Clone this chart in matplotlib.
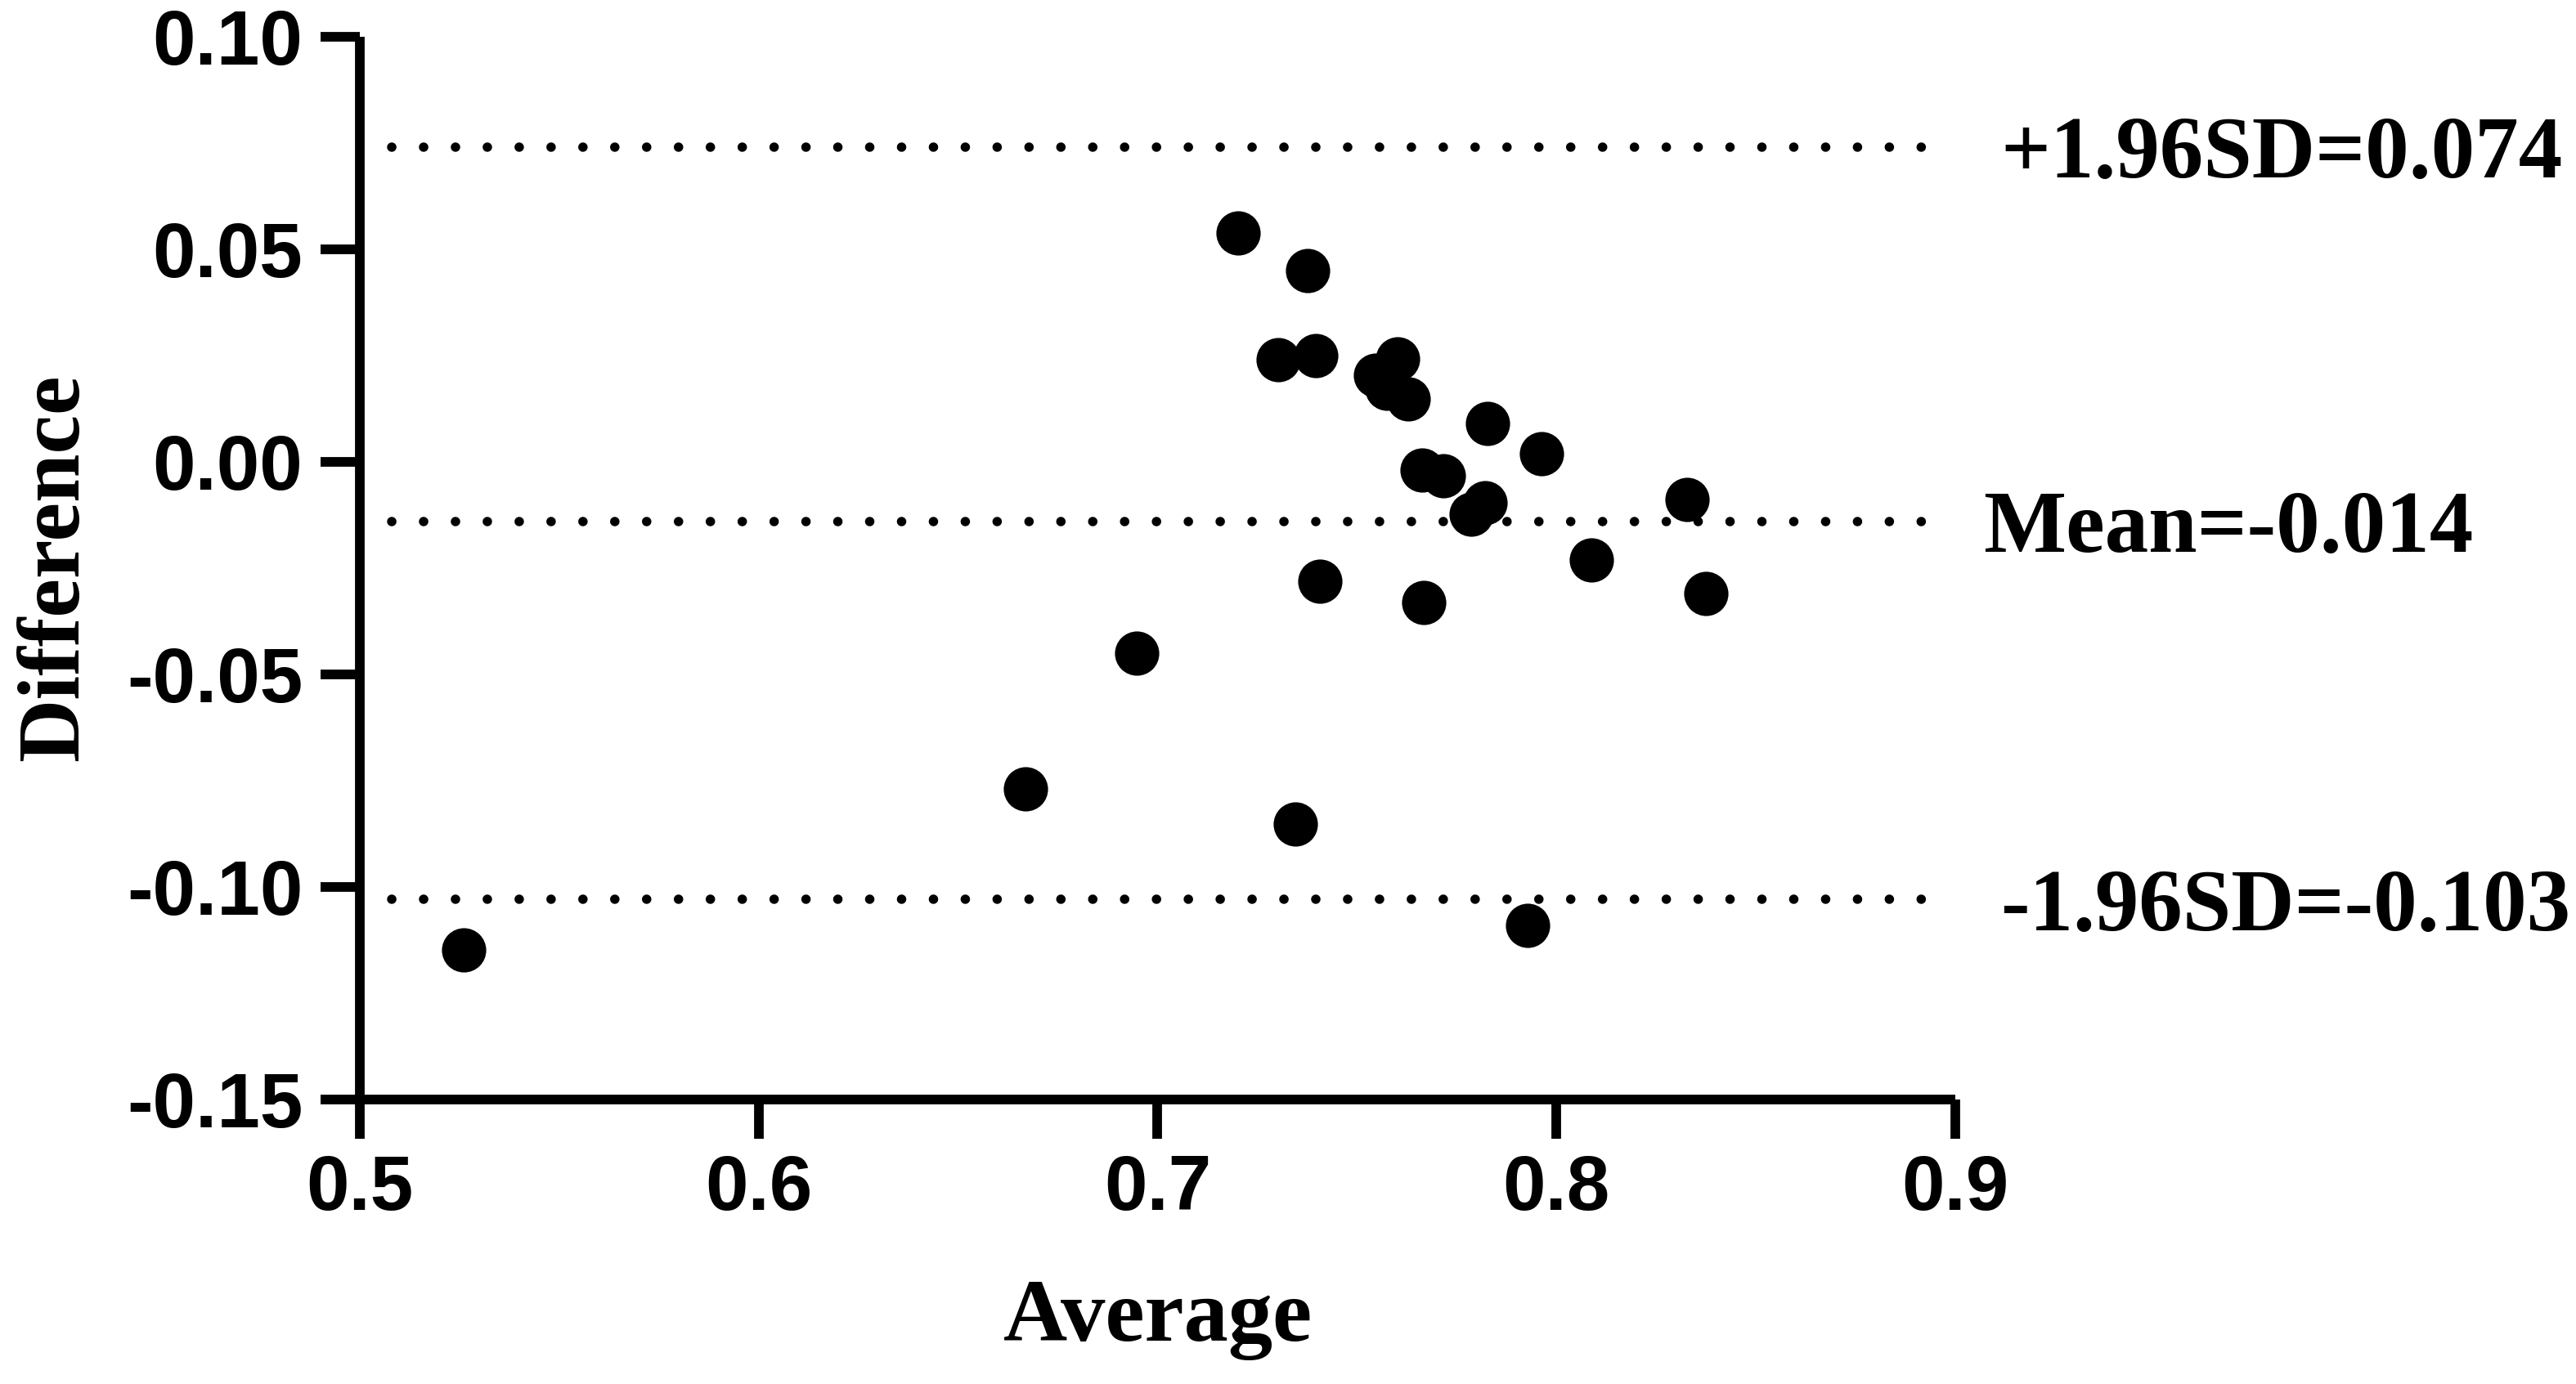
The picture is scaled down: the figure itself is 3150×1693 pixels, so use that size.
import matplotlib
matplotlib.use('Agg')
import matplotlib.pyplot as plt

# Bland-Altman data
avg = [0.7202, 0.7377, 0.7302, 0.7398, 0.7602, 0.7546, 0.7575, 0.7628,
       0.7828, 0.7963, 0.7663, 0.7716, 0.7822, 0.7787, 0.8328, 0.7408,
       0.7667, 0.8088, 0.8375, 0.6948, 0.6668, 0.7345, 0.7928, 0.5259]
diff = [0.0538, 0.0450, 0.0239, 0.0249, 0.0242, 0.0203, 0.0173, 0.0148,
        0.0089, 0.0019, -0.0020, -0.0033, -0.0097, -0.0123, -0.0090, -0.0282,
        -0.0331, -0.0232, -0.0310, -0.0450, -0.0770, -0.0853, -0.1091, -0.1149]

mean_diff = -0.014
upper_loa = 0.074
lower_loa = -0.103
line_labels = ['+1.96SD=0.074', 'Mean=-0.014', '-1.96SD=-0.103']
line_values = [upper_loa, mean_diff, lower_loa]
label_x = [0.9115, 0.9070, 0.9113]

xticks = [0.5, 0.6, 0.7, 0.8, 0.9]
yticks = [0.10, 0.05, 0.00, -0.05, -0.10, -0.15]

serif = 'Liberation Serif'
sans = 'Liberation Sans'

fig = plt.figure(figsize=(31.5, 16.93), dpi=100)
ax = fig.add_axes([0.1398, 0.2056, 0.6191, 0.7681])

# dotted reference lines (round caps on tiny dashes -> dots)
for v in line_values:
    ax.plot([0.508, 0.892], [v, v], color='black', lw=8.3,
            linestyle=(0, (0.01, 3.37)), dash_capstyle='round')

ax.plot(avg, diff, 'o', color='black', markersize=39, markeredgewidth=0, zorder=3)

for txt, v, lx in zip(line_labels, line_values, label_x):
    ax.text(lx, v, txt, fontfamily=serif, fontweight='bold', fontsize=77,
            ha='left', va='center_baseline', clip_on=False)

ax.set_xlim(0.5, 0.9)
ax.set_ylim(-0.15, 0.10)
ax.set_xticks(xticks)
ax.set_xticklabels(['%.1f' % t for t in xticks])
ax.set_yticks(yticks)
ax.set_yticklabels(['%.2f' % t for t in yticks])

for s in ['top', 'right']:
    ax.spines[s].set_visible(False)
for s in ['left', 'bottom']:
    ax.spines[s].set_linewidth(8.5)
    ax.spines[s].set_capstyle('butt')

ax.tick_params(axis='both', width=8.5, length=34.5, direction='out')
ax.tick_params(axis='x', pad=13)
ax.tick_params(axis='y', pad=16)
for lab in ax.get_xticklabels() + ax.get_yticklabels():
    lab.set_fontfamily(sans)
    lab.set_fontweight('bold')
    lab.set_fontsize(68)

ax.set_xlabel('Average', fontfamily=serif, fontweight='bold', fontsize=78)
ax.set_ylabel('Difference', fontfamily=serif, fontweight='bold', fontsize=77)
ax.xaxis.set_label_coords(0.5, -0.170)
ax.yaxis.set_label_coords(-0.1654, 0.5)

fig.savefig('out.png', dpi=100)
